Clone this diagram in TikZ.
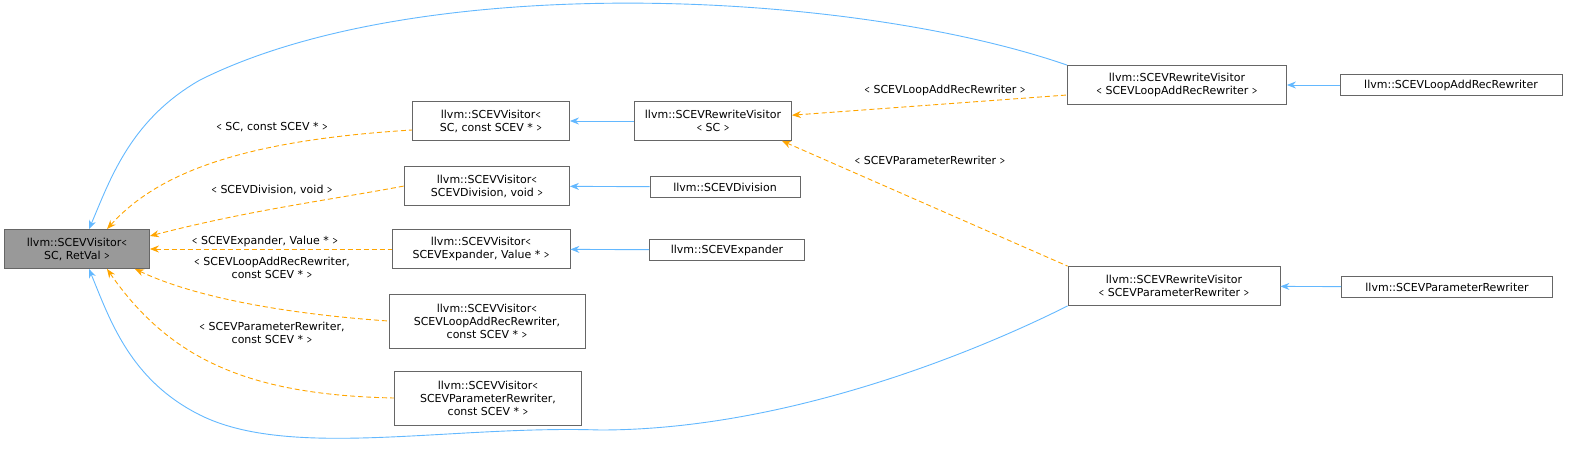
\documentclass[tikz,border=0pt]{standalone}
\usepackage{fontspec}
\setmainfont{DejaVu Sans}
\usetikzlibrary{arrows.meta}
\usetikzlibrary{quotes}
\definecolor{inh}{HTML}{63B8FF}
\definecolor{tmpl}{HTML}{FFA500}
\begin{document}
\begin{tikzpicture}[x=1pt,y=-1pt,
    every node/.style={font=\fontsize{11}{13}\selectfont,align=center},
    cls/.style={draw=black!60,fill=white,line width=0.8pt,inner sep=2pt,minimum height=21pt},
    two/.style={minimum height=39pt},
    three/.style={minimum height=54pt},
    lbl/.style={inner sep=1pt},
    inh/.style={draw=inh,line width=0.9pt,{Stealth[length=9pt,width=7pt]}-},
    tmpl/.style={draw=tmpl,line width=0.9pt,dash pattern=on 5pt off 3pt,{Stealth[length=9pt,width=7pt]}-}]
    \useasboundingbox (0,0) rectangle (1583,456);
    % classes
    \node[cls,two,fill=black!40,minimum width=145pt] (base) at (77,249) {llvm::SCEVVisitor\texttt{<}\\SC, RetVal \texttt{>}};
    \node[cls,two,minimum width=157pt] (vsc) at (491,121) {llvm::SCEVVisitor\texttt{<}\\SC, const SCEV * \texttt{>}};
    \node[cls,two,minimum width=165pt] (vdiv) at (487,186) {llvm::SCEVVisitor\texttt{<}\\SCEVDivision, void \texttt{>}};
    \node[cls,two,minimum width=178pt] (vexp) at (481,249) {llvm::SCEVVisitor\texttt{<}\\SCEVExpander, Value * \texttt{>}};
    \node[cls,three,minimum width=196pt] (vlar) at (487,321) {llvm::SCEVVisitor\texttt{<}\\SCEVLoopAddRecRewriter,\\const SCEV * \texttt{>}};
    \node[cls,three,minimum width=187pt] (vpar) at (488,398) {llvm::SCEVVisitor\texttt{<}\\SCEVParameterRewriter,\\const SCEV * \texttt{>}};
    \node[cls,two,minimum width=157pt] (rwsc) at (713,121) {llvm::SCEVRewriteVisitor\\\texttt{<} SC \texttt{>}};
    \node[cls,minimum width=150pt] (div) at (725,187) {llvm::SCEVDivision};
    \node[cls,minimum width=155pt] (exp) at (727,250) {llvm::SCEVExpander};
    \node[cls,two,minimum width=219pt] (rwlar) at (1177,85) {llvm::SCEVRewriteVisitor\\\texttt{<} SCEVLoopAddRecRewriter \texttt{>}};
    \node[cls,two,minimum width=212pt] (rwpar) at (1174,286) {llvm::SCEVRewriteVisitor\\\texttt{<} SCEVParameterRewriter \texttt{>}};
    \node[cls,minimum width=222pt] (lar) at (1451,85) {llvm::SCEVLoopAddRecRewriter};
    \node[cls,minimum width=211pt] (par) at (1447,287) {llvm::SCEVParameterRewriter};
    % inheritance
    \draw[inh] (vsc) -- (rwsc);
    \draw[inh] (vdiv) -- (div);
    \draw[inh] (vexp) -- (exp);
    \draw[inh] (rwlar) -- (lar);
    \draw[inh] (rwpar) -- (par);
    \draw[inh] (base.north) ++(12,0) .. controls (110,180) and (130,120) .. (200,80)
        .. controls (420,-30) and (850,-10) .. (rwlar.north west);
    \draw[inh] (base.south) ++(12,0) .. controls (110,320) and (130,380) .. (200,415)
        .. controls (290,460) and (450,425) .. (600,430)
        .. controls (800,430) and (1000,340) .. (rwpar.south west);
    % template instances
    \draw[tmpl] (base.north) ++(30,0) .. controls (160,170) and (250,140) .. (vsc.west |- 0,130);
    \draw[tmpl] (base.east |- 0,236) .. controls (250,210) and (330,200) .. (vdiv.west);
    \draw[tmpl] (base) -- (vexp);
    \draw[tmpl] (base.south east) ++(-15,0) .. controls (200,300) and (300,315) .. (vlar.west);
    \draw[tmpl] (base.south) ++(30,0) .. controls (170,360) and (250,395) .. (vpar.west);
    \draw[tmpl] (rwsc) -- (rwlar.west |- 0,95);
    \draw[tmpl] (rwsc.south east) ++(-10,0) -- (rwpar.north west);
    % labels
    \node[lbl] (lsc) at (272,127) {\texttt{<} SC, const SCEV * \texttt{>}};
    \node[lbl] (ldiv) at (272,190) {\texttt{<} SCEVDivision, void \texttt{>}};
    \node[lbl,fill=white] (lexp) at (265,241) {\texttt{<} SCEVExpander, Value * \texttt{>}};
    \node[lbl] (llar) at (272,268) {\texttt{<} SCEVLoopAddRecRewriter,\\const SCEV * \texttt{>}};
    \node[lbl] (lpar) at (272,333) {\texttt{<} SCEVParameterRewriter,\\const SCEV * \texttt{>}};
    \node[lbl] (lrl) at (945,90) {\texttt{<} SCEVLoopAddRecRewriter \texttt{>}};
    \node[lbl] (lrp) at (930,160) {\texttt{<} SCEVParameterRewriter \texttt{>}};
\end{tikzpicture}
\end{document}
